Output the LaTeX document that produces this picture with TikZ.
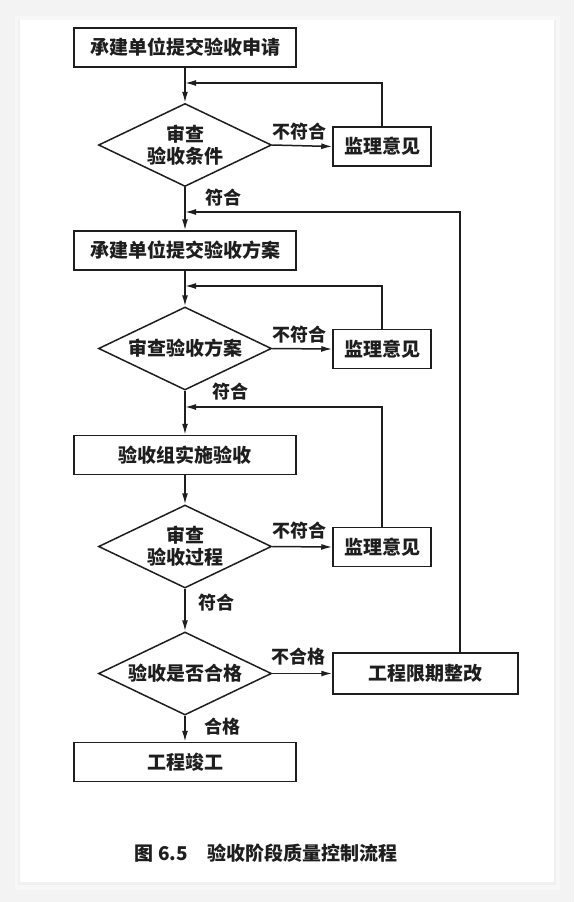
\documentclass[tikz,border=0pt]{standalone}
\usepackage{fontspec}
\newfontfamily\cjk{Noto Sans CJK SC}
\usetikzlibrary{arrows.meta,shapes.geometric}
\definecolor{ink}{HTML}{1E1E1E}
\definecolor{pagebg}{HTML}{F3F3F3}
\begin{document}
\begin{tikzpicture}[x=1pt,y=-1pt,
  every node/.style={font=\cjk\bfseries\fontsize{19}{22}\selectfont, text=ink},
  mainbox/.style={draw=ink, line width=1.5pt, minimum width=222pt, minimum height=39pt, inner sep=0pt},
  sidebox/.style={draw=ink, line width=1.5pt, minimum width=98pt, minimum height=39pt, inner sep=0pt},
  decision/.style={draw=ink, line width=1.5pt, shape=diamond, aspect=2.06, minimum width=173pt, minimum height=83pt, inner sep=0pt, align=center},
  lbl/.style={font=\cjk\bfseries\fontsize{18}{20}\selectfont, inner sep=0pt},
  arr/.style={draw=ink, line width=1.5pt, -{Latex[length=11pt,width=6pt]}},
]
\useasboundingbox (0,0) rectangle (574,902);
% page and card
\fill[pagebg] (0,0) rectangle (574,902);
\fill[gray!9] (17,18) rectangle (558,888);
\fill[gray!6] (15,16) rectangle (560,890);
\fill[gray!12] (18,20) rectangle (556,885);
\fill[white] (20,20) rectangle (554,882);

% nodes
\node[mainbox] (b1) at (185,47.5) {承建单位提交验收申请};
\node[decision] (d1) at (185,145) {审查\\验收条件};
\node[sidebox] (m1) at (382,146.5) {监理意见};
\node[mainbox] (b2) at (185,250.5) {承建单位提交验收方案};
\node[decision] (d2) at (185,348.5) {审查验收方案};
\node[sidebox] (m2) at (382,349) {监理意见};
\node[mainbox] (b3) at (185,455) {验收组实施验收};
\node[decision] (d3) at (185,546.5) {审查\\验收过程};
\node[sidebox] (m3) at (382,547) {监理意见};
\node[decision] (d4) at (185,673.5) {验收是否合格};
\node[draw=ink, line width=1.5pt, minimum width=185pt, minimum height=41pt, inner sep=0pt] (r) at (425.5,673.5) {工程限期整改};
\node[mainbox] (b5) at (185,762) {工程竣工};

% junction coordinates
\coordinate (j1) at (382,83);
\coordinate (j2) at (460,212);
\coordinate (j3) at (382,286);
\coordinate (j4) at (382,407);

% main flow
\draw[arr] (b1) -- (d1);
\draw[arr] (d1) -- (b2);
\draw[arr] (b2) -- (d2);
\draw[arr] (d2) -- (b3);
\draw[arr] (b3) -- (d3);
\draw[arr] (d3) -- (d4);
\draw[arr] (d4) -- (b5);

% side branches
\draw[arr] (d1.east) -- (m1.west);
\draw[arr] (d2.east) -- (m2.west);
\draw[arr] (d3.east) -- (m3.west);
\draw[arr] (d4.east) -- (r.west);

% feedback loops
\draw[arr] (m1.north) -- (j1) -- (b1.south |- j1);
\draw[arr] (r.north -| j2) -- (j2) -- (d1.south |- j2);
\draw[arr] (m2.north) -- (j3) -- (b2.south |- j3);
\draw[arr] (m3.north) -- (j4) -- (d2.south |- j4);

% labels
\node[lbl] (l1) at (299,132) {不符合};
\node[lbl] (l2) at (223,198) {符合};
\node[lbl] (l3) at (299,335) {不符合};
\node[lbl] (l4) at (230,392) {符合};
\node[lbl] (l5) at (299,531) {不符合};
\node[lbl] (l6) at (216,603) {符合};
\node[lbl] (l7) at (298,657) {不合格};
\node[lbl] (l8) at (222,727) {合格};

% caption
\node[font=\cjk\bfseries\fontsize{19}{22}\selectfont] (cap) at (266,853) {图 6.5\hspace{1em}验收阶段质量控制流程};
\end{tikzpicture}
\end{document}
